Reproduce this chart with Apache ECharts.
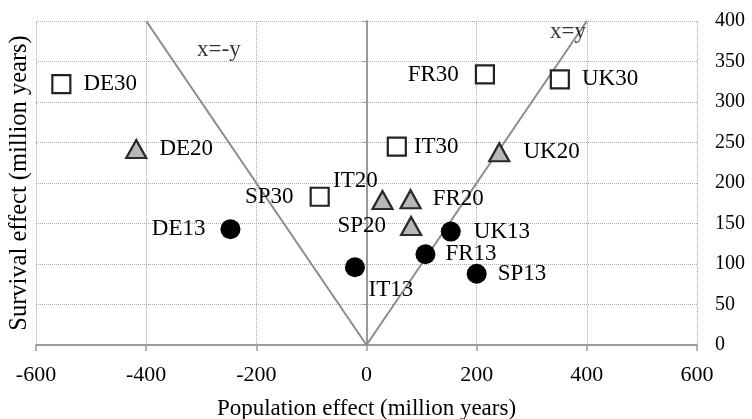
<!DOCTYPE html>
<html>
<head>
<meta charset="utf-8">
<script src="https://cdn.jsdelivr.net/npm/echarts@6/dist/echarts.min.js"></script>
<style>
html,body{margin:0;padding:0;background:#fff;}
#chart{width:752px;height:419px;}
</style>
</head>
<body>
<div id="chart"></div>
<script>
// ---- data ----
const names30 = ['DE30', 'SP30', 'IT30', 'FR30', 'UK30'];
const x30 = [-554, -85, 55, 215, 351];
const y30 = [322, 183, 245, 334, 328];

const names20 = ['DE20', 'IT20', 'SP20', 'FR20', 'UK20'];
const x20 = [-418, 29, 81, 80, 241];
const y20 = [242, 179, 147, 180, 238];

const names13 = ['DE13', 'IT13', 'FR13', 'UK13', 'SP13'];
const x13 = [-247, -21, 107, 153, 200];
const y13 = [143, 96, 112, 140, 88];

// reference lines x=-y and x=y
const refLineX = [-400, 0, 400];
const refLineY = [400, 0, 400];
const refLabelText = ['x=-y', 'x=y'];
const refLabelX = [-268, 366];
const refLabelY = [364, 386];

const xTicks = [-600, -400, -200, 0, 200, 400, 600];
const yTicks = [0, 50, 100, 150, 200, 250, 300, 350, 400];

// ---- label placement (styling) ----
const labelPlace = {
  DE30: {position: 'right', distance: 12},
  SP30: {position: 'left', distance: 16},
  IT30: {position: 'right', distance: 7},
  FR30: {position: 'left', distance: 16},
  UK30: {position: 'right', distance: 12},
  DE20: {position: 'right', distance: 12},
  IT20: {position: 'inside', offset: [-27, -19]},
  SP20: {position: 'left', distance: 14},
  FR20: {position: 'right', distance: 11},
  UK20: {position: 'right', distance: 13},
  DE13: {position: 'left', distance: 15},
  IT13: {position: 'inside', offset: [36, 23]},
  FR13: {position: 'right', distance: 10},
  UK13: {position: 'right', distance: 13},
  SP13: {position: 'right', distance: 11}
};

const FONT = '"Liberation Serif", "Times New Roman", serif';

function build(names, xs, ys) {
  return names.map((n, i) => ({
    name: n,
    value: [xs[i], ys[i]],
    label: Object.assign({show: true}, labelPlace[n])
  }));
}

const pointLabel = {
  show: true,
  formatter: p => p.name,
  fontFamily: FONT,
  fontSize: 23,
  color: '#000'
};

const chart = echarts.init(document.getElementById('chart'), null, {renderer: 'canvas'});

chart.setOption({
  animation: false,
  backgroundColor: '#fff',
  grid: {left: 36, right: 55, top: 21, bottom: 74, containLabel: false, outerBoundsMode: 'none'},
  xAxis: {
    type: 'value',
    min: xTicks[0], max: xTicks[xTicks.length - 1], interval: 200,
    name: 'Population effect (million years)',
    nameLocation: 'middle',
    nameGap: 52,
    nameTextStyle: {fontFamily: FONT, fontSize: 23, color: '#000'},
    axisLine: {show: true, onZero: true, lineStyle: {color: '#9a9a9a', width: 2}},
    axisTick: {show: true, length: 6, lineStyle: {color: '#9a9a9a', width: 1.5}},
    axisLabel: {fontFamily: FONT, fontSize: 22, color: '#000', margin: 19},
    splitLine: {show: true, lineStyle: {type: 'dotted', color: '#a8a8a8', width: 1}}
  },
  yAxis: [
    {
      type: 'value',
      min: yTicks[0], max: yTicks[yTicks.length - 1], interval: 50,
      name: 'Survival effect (million years)',
      nameLocation: 'middle',
      nameGap: 4,
      nameTextStyle: {fontFamily: FONT, fontSize: 24.5, color: '#000'},
      axisLine: {show: true, onZero: true, lineStyle: {color: '#9a9a9a', width: 2}},
      axisTick: {show: true, length: 4, lineStyle: {color: '#9a9a9a', width: 1}},
      axisLabel: {show: false},
      splitLine: {show: true, lineStyle: {type: 'dotted', color: '#a8a8a8', width: 1}}
    },
    {
      type: 'value',
      position: 'right',
      min: yTicks[0], max: yTicks[yTicks.length - 1], interval: 50,
      axisLine: {show: false},
      axisTick: {show: false},
      splitLine: {show: false},
      axisLabel: {fontFamily: FONT, fontSize: 20, color: '#000', margin: 18, align: 'left'}
    }
  ],
  series: [
    {
      type: 'line',
      data: refLineX.map((x, i) => [x, refLineY[i]]),
      symbol: 'none',
      lineStyle: {color: '#8c8c8c', width: 2},
      silent: true,
      z: 1
    },
    {
      type: 'scatter',
      data: refLabelText.map((t, i) => ({name: t, value: [refLabelX[i], refLabelY[i]]})),
      symbolSize: 1,
      itemStyle: {color: 'rgba(0,0,0,0)'},
      label: {show: true, position: 'inside', formatter: p => p.name, fontFamily: FONT, fontSize: 23, color: '#000'},
      silent: true,
      z: 2
    },
    {
      type: 'scatter',
      name: '30',
      data: build(names30, x30, y30),
      symbol: 'rect',
      symbolSize: 18,
      itemStyle: {color: '#ffffff', borderColor: '#222', borderWidth: 2.2, opacity: 1},
      label: pointLabel,
      z: 3
    },
    {
      type: 'scatter',
      name: '20',
      data: build(names20, x20, y20),
      symbol: 'triangle',
      symbolSize: [20, 18],
      itemStyle: {color: '#b8b8b8', borderColor: '#2a2a2a', borderWidth: 2.2, opacity: 1},
      label: pointLabel,
      z: 3
    },
    {
      type: 'scatter',
      name: '13',
      data: build(names13, x13, y13),
      symbol: 'circle',
      symbolSize: 20,
      itemStyle: {color: '#000', opacity: 1},
      label: pointLabel,
      z: 3
    }
  ]
});
</script>
</body>
</html>
